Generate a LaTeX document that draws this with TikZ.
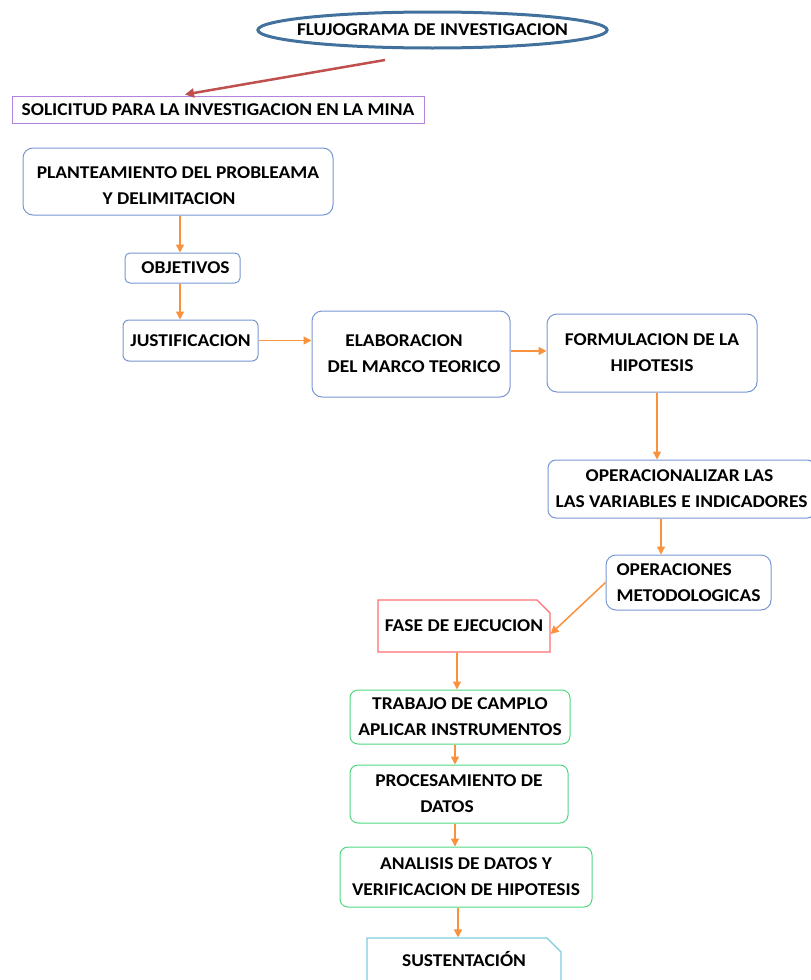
\documentclass[tikz,border=0pt]{standalone}
\usepackage{fontspec}
\setmainfont[FakeStretch=1.08]{Carlito}
\usetikzlibrary{arrows.meta,shapes.geometric,shapes.misc}
\definecolor{ellblue}{RGB}{65,113,156}
\definecolor{redarr}{RGB}{192,80,77}
\definecolor{purp}{RGB}{178,130,220}
\definecolor{boxblue}{RGB}{120,150,210}
\definecolor{orng}{RGB}{250,145,60}
\definecolor{pinkred}{RGB}{255,110,115}
\definecolor{grn}{RGB}{80,215,130}
\definecolor{cyn}{RGB}{125,205,220}
\tikzset{
  txt/.style={font=\bfseries\fontsize{18}{26}\selectfont, align=center, inner sep=0pt},
  bluebox/.style={txt, draw=boxblue, line width=1pt, rounded corners=10pt},
  greenbox/.style={txt, draw=grn, line width=1pt, rounded corners=8pt},
  chamf/.style={txt, chamfered rectangle, chamfered rectangle corners=north east, chamfered rectangle xsep=7pt, chamfered rectangle ysep=7pt, line width=1.2pt},
  arr/.style={draw=orng, line width=1.5pt, -{Triangle[length=8pt,width=8pt]}},
}
\begin{document}
\begin{tikzpicture}[x=1pt,y=-1pt]
\useasboundingbox (0,0) rectangle (811,980);
\node[txt, ellipse, draw=ellblue, line width=3pt, inner xsep=-12pt, inner ysep=-4pt, minimum width=349pt, minimum height=36pt] (title) at (432.5,30) {FLUJOGRAMA DE INVESTIGACION};
\node[txt, draw=purp, line width=1pt, minimum width=412pt, minimum height=27pt] (sol) at (218,109.5) {SOLICITUD PARA LA INVESTIGACION EN LA MINA};
\node[bluebox, minimum width=310pt, minimum height=67pt, text height=46pt] (plan) at (178,181.5) {PLANTEAMIENTO DEL PROBLEAMA\\\hspace*{-18pt}Y DELIMITACION};
\node[bluebox, rounded corners=5pt, minimum width=115pt, minimum height=30pt] (obj) at (182.5,268) {\hspace*{6pt}OBJETIVOS};
\node[bluebox, rounded corners=6pt, minimum width=135pt, minimum height=41pt] (just) at (190.5,340.5) {JUSTIFICACION};
\node[bluebox, minimum width=198pt, minimum height=86pt] (elab) at (411,354) {\hspace*{-14pt}ELABORACION\\\hspace*{6pt}DEL MARCO TEORICO};
\node[bluebox, minimum width=210pt, minimum height=78pt] (form) at (652,353) {FORMULACION DE LA\\HIPOTESIS};
\node[bluebox, rounded corners=8pt, minimum width=267pt, minimum height=58pt] (oper) at (681.5,489) {\hspace*{-4pt}OPERACIONALIZAR LAS\\LAS VARIABLES E INDICADORES};
\node[bluebox, align=left, minimum width=165pt, minimum height=55pt] (opm) at (688.5,582.5) {OPERACIONES\\METODOLOGICAS};
\node[chamf, draw=pinkred, minimum width=172pt, minimum height=52pt] (fase) at (464,626) {FASE DE EJECUCION};
\node[greenbox, minimum width=220pt, minimum height=54pt] (trab) at (460,717) {TRABAJO DE CAMPLO\\APLICAR INSTRUMENTOS};
\node[greenbox, minimum width=218pt, minimum height=58pt] (proc) at (459,794) {PROCESAMIENTO DE\\\hspace*{-24pt}DATOS};
\node[greenbox, minimum width=252pt, minimum height=60pt] (anal) at (466,877) {ANALISIS DE DATOS Y\\VERIFICACION DE HIPOTESIS};
\node[chamf, draw=cyn, minimum width=194pt, minimum height=74pt, text depth=0pt] (sust) at (464,975) {\raisebox{32pt}{SUSTENTACIÓN}};
\coordinate (rs) at (385,60);
\draw[draw=redarr, line width=2.5pt, -{Triangle[length=9pt,width=9pt]}] (rs) -- ([xshift=-33pt,yshift=1pt]sol.north);
\draw[arr] ([xshift=2pt]plan.south) -- ([xshift=2pt]plan.south |- obj.north);
\draw[arr] ([xshift=-2.5pt]obj.south) -- ([xshift=-2.5pt]obj.south |- just.north);
\draw[arr] (just.east) -- (just.east -| elab.west);
\draw[arr] ([yshift=3pt]elab.east) -- ([yshift=3pt]elab.east -| form.west);
\draw[arr] ([xshift=5pt]form.south) -- ([xshift=5pt]form.south |- oper.north);
\draw[arr] ([xshift=-20.5pt]oper.south) -- ([xshift=-20.5pt]oper.south |- opm.north);
\draw[arr] (opm.west) -- ([yshift=-8pt]fase.east);
\draw[arr] ([xshift=-7pt]fase.south) -- ([xshift=-7pt]fase.south |- trab.north);
\draw[arr] ([xshift=-5pt]trab.south) -- ([xshift=-5pt]trab.south |- proc.north);
\draw[arr] ([xshift=-4pt]proc.south) -- ([xshift=-4pt]proc.south |- anal.north);
\draw[arr] ([xshift=-8pt]anal.south) -- ([xshift=-8pt]anal.south |- sust.north);
\end{tikzpicture}
\end{document}
